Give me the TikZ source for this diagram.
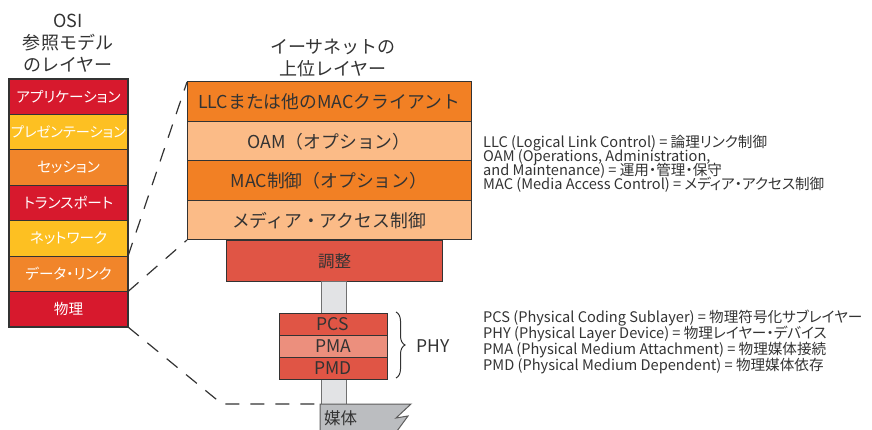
\documentclass[tikz,border=0pt]{standalone}
\usepackage{fontspec}
\setmainfont{Noto Sans CJK JP}
\newfontfamily\jpprop{Noto Sans CJK JP}[RawFeature=+palt]
\usetikzlibrary{decorations.pathreplacing}
\definecolor{txt}{HTML}{333333}
\definecolor{edge}{HTML}{333333}
\definecolor{osired}{HTML}{D7192D}
\definecolor{osiyellow}{HTML}{FDC022}
\definecolor{osiorange}{HTML}{F1852A}
\definecolor{ethorange}{HTML}{F28024}
\definecolor{ethlight}{HTML}{FBBB87}
\definecolor{adjred}{HTML}{E05545}
\definecolor{pmacol}{HTML}{EC8F7D}
\definecolor{medgray}{HTML}{BBBDC0}
\definecolor{bargray}{HTML}{E2E3E5}
\tikzset{
  osibox/.style={draw=edge, line width=1.2pt, inner sep=0pt, outer sep=0pt, anchor=north west,
    minimum width=119pt, minimum height=35.43pt, text=white, font=\jpprop\fontsize{14.6}{15}\selectfont},
  ethbox/.style={draw=edge, line width=1pt, inner sep=0pt, outer sep=0pt, anchor=north west,
    minimum width=284pt, minimum height=39.5pt, text=txt, font=\fontsize{17.8}{20}\selectfont},
  phybox/.style={draw=edge, line width=1pt, inner sep=0pt, outer sep=0pt, anchor=north west,
    minimum width=108pt, minimum height=22pt, text=txt, font=\fontsize{17.5}{20}\selectfont},
  title/.style={text=txt, align=center, font=\fontsize{18}{22}\selectfont},
  note/.style={text=txt, anchor=west, inner sep=0pt, font=\jpprop\fontsize{14.6}{15}\selectfont},
  dashline/.style={draw=edge, line width=1.2pt, dash pattern=on 14pt off 11pt}
}
\begin{document}
\begin{tikzpicture}[x=1pt,y=-1pt]
\useasboundingbox (0,0) rectangle (872,430);
% titles
\node[title] (osititle) at (68,43) {OSI\\参照モデル\\のレイヤー};
\node[title] (ethtitle) at (333,58) {イーサネットの\\上位レイヤー};
% OSI stack
\node[osibox, fill=osired]    (app)  at (9,79)      {アプリケーション};
\node[osibox, fill=osiyellow] (pres) at (9,114.43)  {\fontsize{14.2}{15}\selectfont プレゼンテーション};
\node[osibox, fill=osiorange] (sess) at (9,149.86)  {セッション};
\node[osibox, fill=osired]    (trans) at (9,185.29) {トランスポート};
\node[osibox, fill=osiyellow] (net)  at (9,220.71)  {ネットワーク};
\node[osibox, fill=osiorange] (dl)   at (9,256.14)  {データ・リンク};
\node[osibox, fill=osired]    (phys) at (9,291.57)  {物理};
% Ethernet stack
\node[ethbox, fill=ethorange] (llc)  at (187,82)    {LLCまたは他のMACクライアント};
\node[ethbox, fill=ethlight]  (oam)  at (187,121.5) {OAM（オプション）};
\node[ethbox, fill=ethorange] (macc) at (187,161)   {MAC制御（オプション）};
\node[ethbox, fill=ethlight]  (mac)  at (187,200.5) {メディア・アクセス制御};
% reconciliation
\node[draw=edge, line width=1pt, fill=adjred, inner sep=0pt, anchor=north west,
  minimum width=216pt, minimum height=41pt, text=txt, font=\fontsize{16.5}{20}\selectfont]
  (rec) at (226,240) {調整};
% bar
\node[draw=edge!70, line width=0.8pt, fill=bargray, inner sep=0pt, anchor=north west,
  minimum width=25pt, minimum height=123pt] (bar) at (321,281) {};
% PHY sublayers
\node[phybox, fill=adjred] (pcs) at (279,313) {PCS};
\node[phybox, fill=pmacol] (pma) at (279,335) {PMA};
\node[phybox, fill=adjred] (pmd) at (279,357) {PMD};
% medium
\coordinate (m1) at (320,404);
\coordinate (m2) at (411,404);
\coordinate (m3) at (396,418);
\coordinate (m4) at (408,416);
\coordinate (m5) at (397,431);
\coordinate (m6) at (320,431);
\fill[medgray] (m1) -- (m2) -- (m3) -- (m4) -- (m5) -- (m6) -- cycle;
\draw[edge!80, line width=1pt] (m6) -- (m1) -- (m2) -- (m3) -- (m4) -- (m5);
\node[text=txt, font=\fontsize{16.5}{20}\selectfont, anchor=west, inner sep=0pt] (medium) at (324,418) {媒体};
% brace
\coordinate (b1) at (396,312);
\coordinate (b2) at (396,378);
\draw[edge, line width=1pt, decorate, decoration={brace, amplitude=9pt}] (b1) -- (b2);
\node[text=txt, font=\fontsize{17.5}{20}\selectfont, anchor=west, inner sep=0pt] (phy) at (416,346) {PHY};
% dashed connectors
\draw[dashline] (dl.north east) -- (llc.north west);
\draw[dashline] (phys.north east) -- (mac.south west);
\coordinate (bend) at (222,404);
\draw[dashline] (phys.south east) -- (bend) -- (m1);
% notes
\node[note] (n1) at (483,143) {LLC (Logical Link Control) = 論理リンク制御};
\node[note] (n2) at (483,157) {OAM (Operations, Administration,};
\node[note] (n3) at (483,171) {and Maintenance) = 運用・管理・保守};
\node[note] (n4) at (483,185) {MAC (Media Access Control) = メディア・アクセス制御};
\node[note] (n5) at (483,318) {PCS (Physical Coding Sublayer) = 物理符号化サブレイヤー};
\node[note] (n6) at (483,334) {PHY (Physical Layer Device) = 物理レイヤー・デバイス};
\node[note] (n7) at (483,350) {PMA (Physical Medium Attachment) = 物理媒体接続};
\node[note] (n8) at (483,366) {PMD (Physical Medium Dependent) = 物理媒体依存};
\end{tikzpicture}
\end{document}
